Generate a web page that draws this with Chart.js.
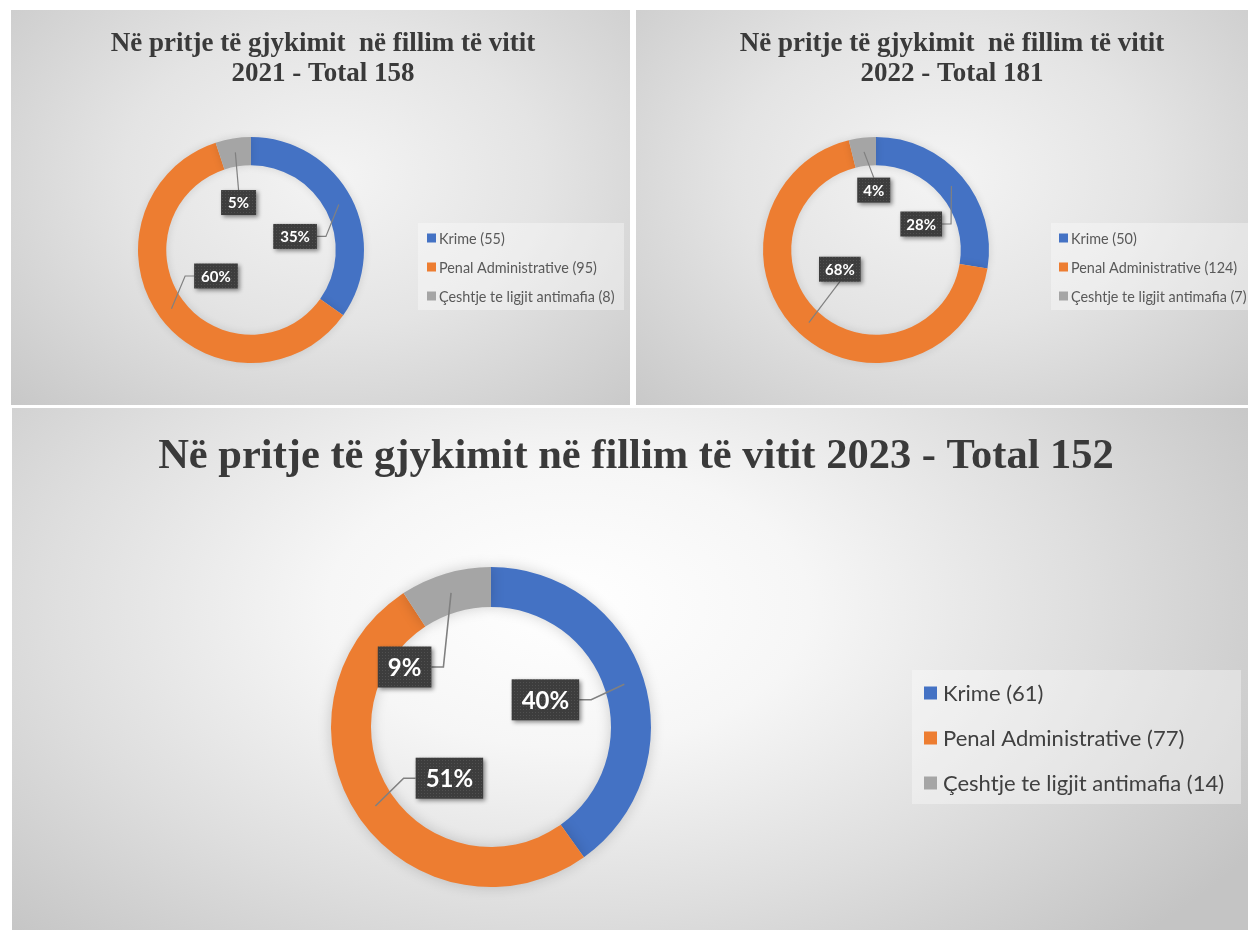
<!DOCTYPE html>
<html>
<head>
<meta charset="utf-8">
<script src="https://cdn.jsdelivr.net/npm/chart.js@4"></script>
<style>
  body { margin: 0; background: #fff; width: 1248px; height: 930px; overflow: hidden; position: relative; }
  .panel { position: absolute; box-sizing: border-box; }
  .panel canvas { display: block; }
  #p1 { left: 11px; top: 10px; width: 619px; height: 395px;
        background: radial-gradient(ellipse 75% 85% at 52% 42%, #f4f4f4 0%, #e4e4e4 45%, #c6c6c6 100%); }
  #p2 { left: 636px; top: 10px; width: 612px; height: 395px;
        background: radial-gradient(ellipse 75% 85% at 50% 42%, #f4f4f4 0%, #e4e4e4 45%, #c6c6c6 100%); }
  #p3 { left: 12px; top: 408px; width: 1236px; height: 522px;
        background: radial-gradient(ellipse 65% 90% at 45% 38%, #ffffff 0%, #f6f6f6 30%, #dedede 65%, #c4c4c4 100%); }
</style>
</head>
<body>
<div class="panel" id="p1"><canvas id="c1" width="619" height="395"></canvas></div>
<div class="panel" id="p2"><canvas id="c2" width="612" height="395"></canvas></div>
<div class="panel" id="p3"><canvas id="c3" width="1236" height="522"></canvas></div>
<script>
// data
const categories = ["Krime", "Penal Administrative", "Çeshtje te ligjit antimafia"];
const years = [2021, 2022, 2023];
const values2021 = [55, 95, 8];
const values2022 = [50, 124, 7];
const values2023 = [61, 77, 14];
const pct2021 = ["35%", "60%", "5%"];
const pct2022 = ["28%", "68%", "4%"];
const pct2023 = ["40%", "51%", "9%"];
const colors = ["#4472C4", "#ED7D31", "#A5A5A5"];

function total(arr) { return arr.reduce((a, b) => a + b, 0); }

// small dotted fill like the excel label boxes
const dotCanvas = document.createElement('canvas');
dotCanvas.width = 3; dotCanvas.height = 3;
const dctx = dotCanvas.getContext('2d');
dctx.fillStyle = '#3d3d3d'; dctx.fillRect(0, 0, 3, 3);
dctx.fillStyle = '#505050'; dctx.fillRect(1, 1, 1, 1);

const panelPlugin = {
  id: 'panel',
  beforeDatasetsDraw(chart, args, o) {
    const ctx = chart.ctx;
    ctx.save();
    ctx.shadowColor = o.glow;
    ctx.shadowBlur = o.glowBlur;
  },
  afterDatasetsDraw(chart) {
    chart.ctx.restore();
  },
  afterDraw(chart, args, o) {
    const ctx = chart.ctx;
    const arcs = chart.getDatasetMeta(0).data;
    const cx = arcs[0].x, cy = arcs[0].y, R = arcs[0].outerRadius;
    const ds = chart.data.datasets[0];

    // title
    ctx.save();
    ctx.fillStyle = '#3a3a3a';
    ctx.font = 'bold ' + o.titleSize + 'px "Liberation Serif", "Times New Roman", serif';
    ctx.textAlign = 'center';
    ctx.textBaseline = 'alphabetic';
    o.title.forEach((line, i) => ctx.fillText(line, o.titleX, o.titleY + i * o.titleLH));
    ctx.restore();

    // legend
    const lg = o.legend;
    ctx.save();
    ctx.fillStyle = 'rgba(255,255,255,0.35)';
    ctx.fillRect(lg.x, lg.y, lg.w, lg.h);
    ctx.font = lg.size + 'px Lato, "Noto Sans", sans-serif';
    ctx.textBaseline = 'middle';
    ctx.textAlign = 'left';
    chart.data.labels.forEach((lab, i) => {
      const y = lg.y + lg.rowY + i * lg.rowGap;
      ctx.fillStyle = ds.backgroundColor[i];
      ctx.fillRect(lg.x + lg.boxX, y - lg.box / 2, lg.box, lg.box);
      ctx.fillStyle = lg.color;
      ctx.fillText(lab + ' (' + ds.data[i] + ')', lg.x + lg.textX, y + 1);
    });
    ctx.restore();

    // data labels with leader lines
    ctx.save();
    ctx.font = 'bold ' + o.labelSize + 'px Lato, "Noto Sans", sans-serif';
    arcs.forEach((arc, i) => {
      const lab = o.labels[i];
      const txt = o.texts[i];
      const a = arc.getCenterPoint();
      const bw = ctx.measureText(txt).width + o.labelPad * 2;
      const bh = o.labelH;
      const bx = cx + lab.dx * R - bw / 2;
      const by = cy + lab.dy * R - bh / 2;
      // leader
      ctx.strokeStyle = '#808080';
      ctx.lineWidth = o.leaderW;
      ctx.beginPath();
      if (lab.side === 'r') {
        ctx.moveTo(bx + bw, by + bh / 2);
        ctx.lineTo(bx + bw + o.elbow, by + bh / 2);
      } else if (lab.side === 'l') {
        ctx.moveTo(bx, by + bh / 2);
        ctx.lineTo(bx - o.elbow, by + bh / 2);
      } else if (lab.side === 't') {
        ctx.moveTo(bx + bw / 2, by);
      } else {
        ctx.moveTo(bx + bw / 2, by + bh);
      }
      ctx.lineTo(a.x, a.y);
      ctx.stroke();
      // box
      ctx.save();
      ctx.shadowColor = 'rgba(0,0,0,0.45)';
      ctx.shadowBlur = 4;
      ctx.shadowOffsetX = 2;
      ctx.shadowOffsetY = 2;
      ctx.fillStyle = ctx.createPattern(dotCanvas, 'repeat');
      ctx.fillRect(bx, by, bw, bh);
      ctx.restore();
      ctx.fillStyle = '#ffffff';
      ctx.textAlign = 'center';
      ctx.textBaseline = 'middle';
      ctx.fillText(txt, bx + bw / 2, by + bh / 2 + 1);
    });
    ctx.restore();
  }
};

function makeChart(id, values, texts, pad, opts) {
  return new Chart(document.getElementById(id), {
    type: 'doughnut',
    data: {
      labels: categories,
      datasets: [{
        data: values,
        backgroundColor: colors,
        borderWidth: 0,
        hoverOffset: 0
      }]
    },
    options: {
      responsive: false,
      animation: false,
      cutout: '75%',
      layout: { padding: pad },
      plugins: {
        legend: { display: false },
        title: { display: false },
        tooltip: { enabled: false },
        panel: Object.assign({ texts: texts }, opts)
      }
    },
    plugins: [panelPlugin]
  });
}

makeChart('c1', values2021, pct2021,
  { left: 127, top: 127, right: 266, bottom: 42 },
  {
    title: ['Në pritje të gjykimit  në fillim të vitit', years[0] + ' - Total ' + total(values2021)],
    titleSize: 27, titleX: 312, titleY: 41, titleLH: 30,
    legend: { x: 407, y: 213, w: 206, h: 87, rowY: 15, rowGap: 29, box: 9, boxX: 9, textX: 21, size: 14.4, color: '#595959' },
    labels: [{ dx: 0.39, dy: -0.12, side: 'r' }, { dx: -0.31, dy: 0.23, side: 'l' }, { dx: -0.11, dy: -0.42, side: 't' }],
    labelSize: 15, labelPad: 7, labelH: 25, elbow: 9, leaderW: 1.2,
    glow: 'rgba(0,0,0,0.12)', glowBlur: 8
  });

makeChart('c2', values2022, pct2022,
  { left: 127, top: 127, right: 259, bottom: 42 },
  {
    title: ['Në pritje të gjykimit  në fillim të vitit', years[1] + ' - Total ' + total(values2022)],
    titleSize: 27, titleX: 316, titleY: 41, titleLH: 30,
    legend: { x: 415, y: 213, w: 197, h: 87, rowY: 15, rowGap: 29, box: 9, boxX: 8, textX: 20, size: 14.4, color: '#595959' },
    labels: [{ dx: 0.40, dy: -0.23, side: 'r' }, { dx: -0.32, dy: 0.17, side: 'b' }, { dx: -0.02, dy: -0.53, side: 't' }],
    labelSize: 15, labelPad: 6, labelH: 25, elbow: 9, leaderW: 1.2,
    glow: 'rgba(0,0,0,0.12)', glowBlur: 8
  });

makeChart('c3', values2023, pct2023,
  { left: 319, top: 159, right: 597, bottom: 43 },
  {
    title: ['Në pritje të gjykimit në fillim të vitit ' + years[2] + ' - Total ' + total(values2023)],
    titleSize: 42.5, titleX: 624, titleY: 60, titleLH: 46,
    legend: { x: 900, y: 262, w: 329, h: 134, rowY: 23, rowGap: 45, box: 13, boxX: 12, textX: 31, size: 22, color: '#404040' },
    labels: [{ dx: 0.34, dy: -0.17, side: 'r' }, { dx: -0.26, dy: 0.32, side: 'l' }, { dx: -0.54, dy: -0.375, side: 'r' }],
    labelSize: 24, labelPad: 10, labelH: 41, elbow: 12, leaderW: 1.6,
    glow: 'rgba(0,0,0,0.18)', glowBlur: 14
  });
</script>
</body>
</html>
